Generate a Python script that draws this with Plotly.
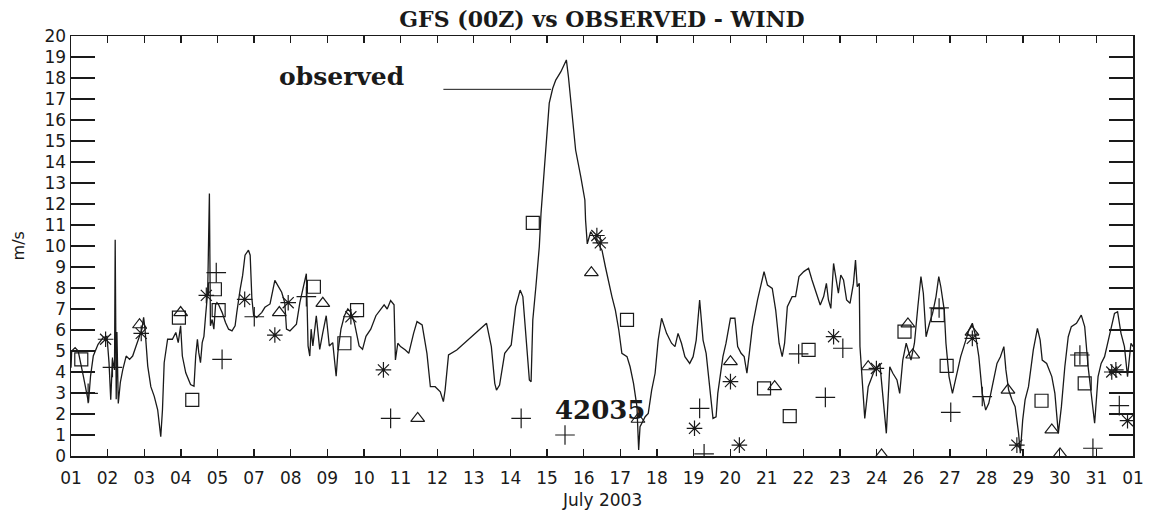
import numpy as np
import plotly.graph_objects as go

# ---------------- data ----------------
tick_labels = ["01", "02", "03", "04", "05", "07", "08", "09", "10", "11",
               "12", "13", "14", "15", "16", "17", "18", "19", "20", "21",
               "22", "23", "24", "26", "27", "28", "29", "30", "31", "01"]

# observed wind (day of July, m/s)
obs_day = [
    1.00, 1.02, 1.12, 1.21, 1.36, 1.47, 1.51, 1.57, 1.65, 1.79,
    1.94, 2.05, 2.11, 2.16, 2.21, 2.27, 2.29, 2.32, 2.34, 2.38,
    2.44, 2.51, 2.61, 2.71, 2.80, 2.90, 3.00, 3.07, 3.12, 3.16,
    3.24, 3.33, 3.43, 3.53, 3.62, 3.67, 3.72, 3.82, 3.96, 4.06,
    4.13, 4.17, 4.20, 4.25, 4.35, 4.49, 4.59, 4.64, 4.69, 4.73,
    4.78, 4.83, 4.88, 4.93, 4.96, 4.99, 5.04, 5.07, 5.12, 5.17,
    5.22, 5.26, 5.31, 5.41, 5.51, 5.60, 5.70, 5.79, 5.84, 5.89,
    5.94, 6.01, 6.08, 6.18, 6.23, 6.28, 6.33, 6.42, 6.57, 6.66,
    6.81, 6.95, 7.05, 7.15, 7.24, 7.29, 7.39, 7.48, 7.58, 7.68,
    7.77, 7.87, 7.92, 7.97, 8.01, 8.06, 8.16, 8.26, 8.35, 8.45,
    8.50, 8.54, 8.64, 8.69, 8.74, 8.79, 8.88, 8.98, 9.08, 9.17,
    9.27, 9.41, 9.51, 9.61, 9.75, 9.90, 10.04, 10.14, 10.23, 10.33,
    10.43, 10.47, 10.54, 10.62, 10.76, 10.86, 11.00, 11.10, 11.25, 11.39,
    11.49, 11.63, 11.78, 11.87, 11.92, 12.02, 12.26, 12.74, 13.13, 13.27,
    13.37, 13.42, 13.51, 13.66, 13.85, 13.98, 14.11, 14.19, 14.28, 14.38,
    14.43, 14.48, 14.57, 14.67, 14.72, 14.86, 14.96, 15.06, 15.15, 15.30,
    15.46, 15.52, 15.64, 15.73, 15.88, 16.00, 16.02, 16.07, 16.17, 16.50,
    16.60, 16.70, 16.79, 16.89, 16.99, 17.08, 17.23, 17.32, 17.42, 17.52,
    17.57, 17.61, 17.76, 17.85, 17.95, 18.05, 18.14, 18.24, 18.385, 18.53,
    18.63, 18.72, 18.82, 18.92, 19.06, 19.16, 19.25, 19.35, 19.38, 19.45,
    19.54, 19.59, 19.69, 19.74, 19.83, 19.88, 20.03, 20.12, 20.25, 20.38,
    20.46, 20.56, 20.65, 20.73, 20.80, 20.89, 21.04, 21.23, 21.33, 21.47,
    21.57, 21.67, 21.76, 21.83, 21.91, 22.05, 22.15, 22.25, 22.39, 22.53,
    22.63, 22.78, 22.87, 22.97, 23.05, 23.11, 23.18, 23.26, 23.33, 23.40,
    23.47, 23.55, 23.64, 23.74, 23.84, 23.90, 23.95, 24.01, 24.03, 24.13,
    24.17, 24.27, 24.42, 24.61, 24.72, 24.80, 24.90, 24.99, 25.11, 25.19,
    25.28, 25.38, 25.52, 25.62, 25.72, 25.81, 25.88, 25.96, 26.06, 26.15,
    26.25, 26.33, 26.39, 26.49, 26.54, 26.63, 26.73, 26.83, 26.97, 27.12,
    27.21, 27.31, 27.41, 27.50, 27.60, 27.70, 27.79, 27.89, 28.03, 28.13,
    28.23, 28.29, 28.37, 28.47, 28.56, 28.66, 28.71, 28.78, 28.85, 28.95,
    29.09, 29.21, 29.29, 29.35, 29.48, 29.63, 29.72, 29.82, 29.91, 30.01,
    30.11, 30.20, 30.35, 30.49, 30.59, 30.69, 30.78, 30.88, 30.98, 31.07,
    31.17, 31.31, 31.46, 31.55, 31.65, 31.75, 31.84, 31.94, 32.00,
]
obs_speed = [
    4.2, 5.0, 5.16, 5.0, 3.8, 3.0, 2.55, 3.8, 4.76, 5.32,
    5.64, 5.7, 4.44, 2.68, 4.6, 4.1, 10.3, 2.7, 5.9, 2.5,
    3.5, 4.1, 4.76, 4.6, 4.76, 5.24, 5.7, 6.04, 6.6, 6.04,
    4.28, 3.3, 2.84, 2.2, 0.92, 2.2, 4.44, 5.56, 5.56, 5.88,
    5.4, 6.04, 6.2, 4.76, 3.96, 3.4, 3.32, 4.76, 5.56, 4.92,
    4.44, 5.4, 5.7, 6.7, 7.2, 7.8, 12.5, 6.2, 6.5, 6.04,
    7.2, 7.3, 7.2, 6.84, 6.36, 6.04, 5.96, 6.2, 6.84, 7.5,
    7.96, 8.6, 9.56, 9.8, 9.56, 7.5, 6.7, 6.6, 6.84, 7.08,
    7.24, 8.36, 8.1, 7.8, 7.3, 6.04, 5.96, 6.1, 6.28, 7.3,
    7.96, 8.68, 5.24, 4.76, 6.04, 5.24, 6.68, 5.08, 5.88, 6.68,
    5.88, 5.24, 5.4, 4.44, 3.8, 4.92, 6.04, 6.68, 7.0, 6.84,
    6.36, 5.24, 5.08, 5.7, 6.04, 6.68, 7.0, 7.2, 7.0, 7.4,
    7.2, 4.57, 5.37, 5.21, 5.05, 4.89, 5.84, 6.4, 6.24, 4.89,
    3.3, 3.3, 3.06, 2.59, 3.14, 4.81, 5.05, 5.76, 6.32, 5.21,
    3.46, 3.14, 3.38, 4.89, 5.29, 7.11, 7.9, 7.59, 5.84, 3.62,
    3.54, 6.48, 8.06, 9.97, 11.56, 14.9, 16.8, 17.5, 17.9, 18.3,
    18.86, 18.06, 15.84, 14.57, 13.3, 12.19, 11.24, 10.1, 10.68, 9.8,
    9.0, 8.2, 7.59, 6.95, 6.0, 4.89, 4.73, 4.25, 3.46, 2.35,
    0.29, 1.4, 1.87, 2.03, 3.14, 3.94, 5.52, 6.56, 5.84, 5.37,
    5.21, 5.84, 5.37, 4.73, 4.41, 4.73, 5.52, 7.43, 6.95, 5.52,
    4.89, 4.1, 2.67, 1.79, 1.87, 2.98, 4.73, 5.37, 6.56, 6.56,
    5.21, 4.89, 4.73, 3.94, 4.89, 6.16, 7.43, 8.78, 8.14, 7.98,
    6.95, 5.37, 4.73, 5.37, 7.11, 7.59, 7.59, 8.54, 8.78, 8.94,
    8.38, 7.59, 7.19, 7.59, 8.22, 7.43, 7.03, 9.17, 8.54, 7.75,
    8.62, 8.38, 7.43, 7.27, 8.22, 9.33, 8.06, 8.22, 5.21, 2.35,
    1.79, 3.3, 3.94, 4.41, 2.67, 1.08, 4.25, 3.94, 3.62, 2.98,
    4.57, 5.37, 4.57, 5.37, 7.11, 8.54, 7.75, 5.68, 6.32, 6.79,
    7.59, 8.54, 8.06, 6.95, 5.37, 3.78, 2.98, 3.78, 4.73, 5.52,
    6.0, 6.32, 5.68, 4.73, 2.98, 2.19, 2.51, 3.3, 4.41, 4.73,
    5.21, 4.1, 3.14, 2.67, 2.35, 1.08, 0.13, 1.71, 2.67, 3.3,
    5.05, 6.08, 5.52, 4.57, 4.41, 3.78, 2.98, 1.08, 2.35, 4.25,
    5.68, 6.16, 6.32, 6.71, 6.16, 4.25, 2.98, 1.56, 3.78, 4.41,
    4.73, 5.68, 6.79, 6.87, 5.84, 5.21, 3.78, 5.37, 5.21,
]

# GFS forecasts (four marker series)
sq_day = [1.30, 4.15, 4.54, 5.20, 5.31, 8.09, 8.98, 9.35, 14.48, 17.23,
          21.23, 21.98, 22.53, 25.33, 26.30, 26.56, 29.33, 30.49, 30.59]
sq_speed = [4.6, 6.59, 2.67, 7.94, 6.95, 8.06, 5.37, 6.95, 11.1, 6.48,
            3.22, 1.9, 5.05, 5.92, 6.71, 4.29, 2.63, 4.6, 3.46]

tri_day = [3.00, 4.20, 7.08, 8.35, 11.12, 16.19, 17.55, 20.25, 21.54, 24.27,
           24.66, 25.43, 25.57, 27.30, 28.35, 29.63, 29.87]
tri_speed = [6.25, 6.83, 6.83, 7.27, 1.79, 8.73, 1.75, 4.49, 3.3, 4.25,
             0.05, 6.29, 4.81, 5.9, 3.14, 1.24, 0.1]

ast_day = [2.01, 3.05, 4.95, 6.07, 6.95, 7.34, 9.17, 10.12, 16.35, 16.45,
           19.20, 20.25, 20.51, 23.26, 24.51, 27.31, 28.61, 31.38, 31.50, 31.84]
ast_speed = [5.56, 5.84, 7.65, 7.46, 5.76, 7.30, 6.63, 4.10, 10.5, 10.15,
             1.32, 3.54, 0.52, 5.68, 4.17, 5.6, 0.52, 4.0, 4.1, 1.68]

plus_day = [1.50, 2.21, 5.24, 5.41, 6.35, 7.87, 10.33, 14.14, 15.42, 19.35,
            19.48, 22.24, 23.02, 23.53, 26.34, 26.68, 27.60, 30.45, 30.83, 31.60]
plus_speed = [2.98, 4.22, 8.73, 4.60, 6.63, 7.59, 1.79, 1.79, 1.0, 2.27,
              0.1, 4.86, 2.79, 5.13, 7.05, 2.08, 2.83, 4.81, 0.37, 2.4]

# annotation anchors (data coordinates)
obs_label_pos = (8.9, 18.05)
obs_leader = (11.87, 15.01, 17.46)
station_label_pos = (16.45, 2.2)

# ---------------- figure ----------------
FIG_W, FIG_H = 1156, 512
M_L, M_R, M_T, M_B = 71, 14, 36, 56
INK = "#1a1a1a"
fig = go.Figure()

fig.add_trace(go.Scatter(x=obs_day, y=obs_speed, mode="lines",
                         line=dict(color=INK, width=1.3), name="observed"))

mk_line = dict(color=INK, width=1.2)
fig.add_trace(go.Scatter(x=sq_day, y=sq_speed, mode="markers", name="GFS a",
                         marker=dict(symbol="square-open", size=13, color=INK, line=mk_line)))
fig.add_trace(go.Scatter(x=tri_day, y=tri_speed, mode="markers", name="GFS b",
                         marker=dict(symbol="triangle-up-open", size=12, color=INK, line=mk_line)))
fig.add_trace(go.Scatter(x=ast_day, y=ast_speed, mode="markers", name="GFS c",
                         marker=dict(symbol="asterisk-open", size=13, color=INK, line=mk_line)))
fig.add_trace(go.Scatter(x=plus_day, y=plus_speed, mode="markers", name="GFS d",
                         marker=dict(symbol="cross-thin-open", size=14, color=INK, line=mk_line)))

tickvals = np.linspace(1, 32, len(tick_labels))

fig.update_layout(
    width=FIG_W, height=FIG_H,
    margin=dict(l=M_L, r=M_R, t=M_T, b=M_B),
    paper_bgcolor="white", plot_bgcolor="white",
    showlegend=False,
    font=dict(family="DejaVu Sans", size=16, color=INK),
    title=dict(text="GFS (00Z) vs OBSERVED - WIND", xref="paper", x=0.5, xanchor="center",
               y=1 - 19 / FIG_H, yanchor="middle",
               font=dict(family="DejaVu Serif", size=22, color=INK, weight="bold")),
    xaxis=dict(range=[1, 32], tickvals=tickvals, ticktext=tick_labels,
               ticks="inside", ticklen=7, tickwidth=1.3, tickcolor=INK,
               showline=True, linecolor=INK, linewidth=1.5, mirror="ticks",
               showgrid=False, zeroline=False, ticklabelstandoff=6,
               tickfont=dict(family="DejaVu Sans", size=17, color=INK)),
    yaxis=dict(range=[0, 20], dtick=1, tick0=0,
               ticks="inside", ticklen=24, tickwidth=1.3, tickcolor=INK,
               showline=True, linecolor=INK, linewidth=1.5, mirror="ticks",
               showgrid=False, zeroline=False,
               tickfont=dict(family="DejaVu Sans", size=17, color=INK)),
)

fig.add_annotation(x=obs_label_pos[0], y=obs_label_pos[1], text="observed",
                   showarrow=False, xanchor="center", yanchor="middle",
                   font=dict(family="DejaVu Serif", size=25, color=INK, weight="bold"))
fig.add_shape(type="line", xref="x", yref="y",
              x0=obs_leader[0], x1=obs_leader[1], y0=obs_leader[2], y1=obs_leader[2],
              line=dict(color=INK, width=1))
fig.add_annotation(x=station_label_pos[0], y=station_label_pos[1], text="42035",
                   showarrow=False, xanchor="center", yanchor="middle",
                   font=dict(family="DejaVu Serif", size=26, color=INK, weight="bold"))

fig.add_annotation(xref="paper", yref="paper", x=0.5, y=-0.105, text="July 2003",
                   showarrow=False, xanchor="center", yanchor="middle",
                   font=dict(family="DejaVu Sans", size=17, color=INK))
fig.add_annotation(xref="paper", yref="paper", x=-0.0495, y=0.5, text="m/s",
                   textangle=-90, showarrow=False, xanchor="center", yanchor="middle",
                   font=dict(family="DejaVu Sans", size=16, color=INK))

# remove the browser's default 8px page margin so the figure fills the window exactly
fig.write_html("out.html",
               config={"displayModeBar": False, "staticPlot": True},
               post_script="document.body.style.margin='0px';"
                           "document.documentElement.style.overflow='hidden';")
